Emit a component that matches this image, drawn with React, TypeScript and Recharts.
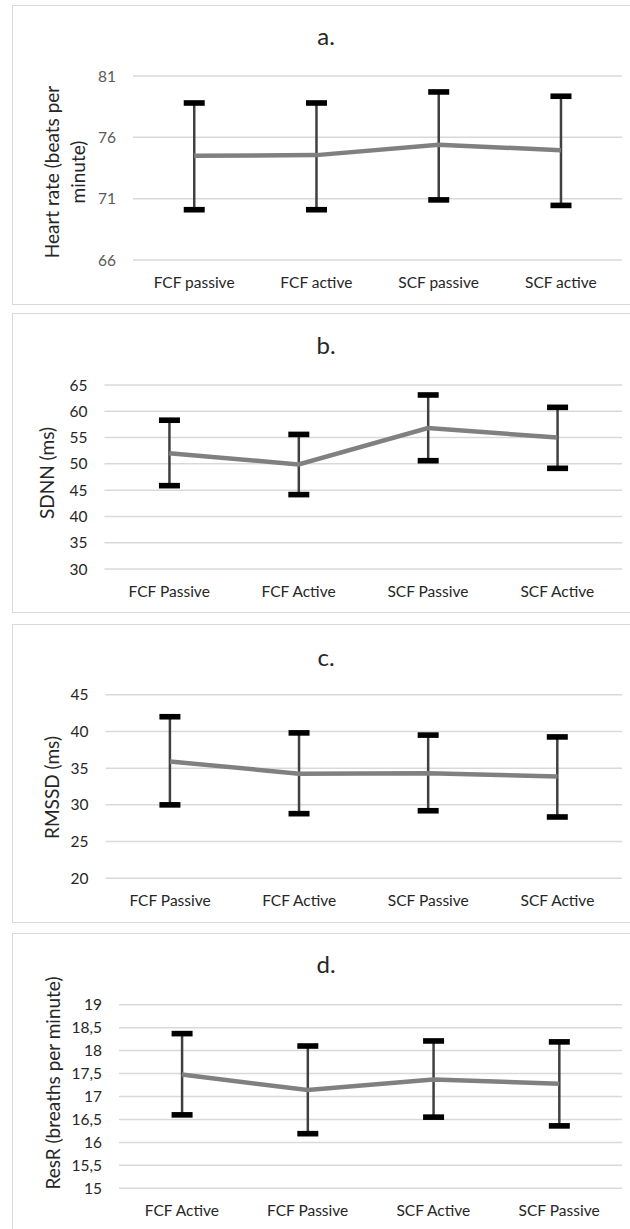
import React from 'react';
import { ComposedChart, Line, Bar, XAxis, YAxis, CartesianGrid } from 'recharts';

// ---------- DATA ----------
const hrCategories = ['FCF passive', 'FCF active', 'SCF passive', 'SCF active'];
const hrMean = [74.5, 74.55, 75.4, 74.95];
const hrUpper = [78.8, 78.8, 79.7, 79.35];
const hrLower = [70.1, 70.1, 70.9, 70.45];
const hrTicks = [66, 71, 76, 81];

const sdnnCategories = ['FCF Passive', 'FCF Active', 'SCF Passive', 'SCF Active'];
const sdnnMean = [52.0, 49.9, 56.8, 55.0];
const sdnnUpper = [58.3, 55.6, 63.1, 60.75];
const sdnnLower = [45.85, 44.15, 50.6, 49.15];
const sdnnTicks = [30, 35, 40, 45, 50, 55, 60, 65];

const rmssdCategories = ['FCF Passive', 'FCF Active', 'SCF Passive', 'SCF Active'];
const rmssdMean = [35.9, 34.25, 34.3, 33.85];
const rmssdUpper = [42.0, 39.8, 39.5, 39.25];
const rmssdLower = [30.0, 28.8, 29.2, 28.35];
const rmssdTicks = [20, 25, 30, 35, 40, 45];

const resrCategories = ['FCF Active', 'FCF Passive', 'SCF Active', 'SCF Passive'];
const resrMean = [17.48, 17.14, 17.37, 17.28];
const resrUpper = [18.37, 18.1, 18.21, 18.19];
const resrLower = [16.6, 16.19, 16.55, 16.36];
const resrTicks = [15, 15.5, 16, 16.5, 17, 17.5, 18, 18.5, 19];

// ---------- LAYOUT ----------
const FONT = 'Lato, "Open Sans", sans-serif';
const PAGE_W = 630;
const PAGE_H = 1229;

type PanelCfg = {
  key: string;
  title: string;
  top: number;
  boxHeight: number;
  chartHeight: number;
  plotLeft: number;
  plotRight: number;
  plotTop: number;
  plotBottom: number;
  titleY: number;
  yTitle: string[];
  yTitleX: number[];
  yTitleY: number;
  yTickColor: string;
  categories: string[];
  mean: number[];
  upper: number[];
  lower: number[];
  ticks: number[];
  comma: boolean;
};

const panels: PanelCfg[] = [
  {
    key: 'a', title: 'a.', top: 5, boxHeight: 300, chartHeight: 300,
    plotLeft: 133, plotRight: 622, plotTop: 76, plotBottom: 260,
    titleY: 39, yTitle: ['Heart rate (beats per', 'minute)'], yTitleX: [51, 77.5], yTitleY: 172,
    yTickColor: '#595959',
    categories: hrCategories, mean: hrMean, upper: hrUpper, lower: hrLower, ticks: hrTicks, comma: false,
  },
  {
    key: 'b', title: 'b.', top: 313, boxHeight: 300, chartHeight: 300,
    plotLeft: 104.5, plotRight: 622, plotTop: 385, plotBottom: 569,
    titleY: 348, yTitle: ['SDNN (ms)'], yTitleX: [46], yTitleY: 473,
    yTickColor: '#262626',
    categories: sdnnCategories, mean: sdnnMean, upper: sdnnUpper, lower: sdnnLower, ticks: sdnnTicks, comma: false,
  },
  {
    key: 'c', title: 'c.', top: 624, boxHeight: 299, chartHeight: 299,
    plotLeft: 105.5, plotRight: 622, plotTop: 694.7, plotBottom: 878.3,
    titleY: 659.5, yTitle: ['RMSSD (ms)'], yTitleX: [51], yTitleY: 787.5,
    yTickColor: '#262626',
    categories: rmssdCategories, mean: rmssdMean, upper: rmssdUpper, lower: rmssdLower, ticks: rmssdTicks, comma: false,
  },
  {
    key: 'd', title: 'd.', top: 933, boxHeight: 320, chartHeight: 296,
    plotLeft: 119, plotRight: 622, plotTop: 1004.7, plotBottom: 1188.3,
    titleY: 967, yTitle: ['ResR (breaths per minute)'], yTitleX: [52], yTitleY: 1083,
    yTickColor: '#262626',
    categories: resrCategories, mean: resrMean, upper: resrUpper, lower: resrLower, ticks: resrTicks, comma: true,
  },
];

const TICK_FONT = 15.5;
const AXIS_TITLE_FONT = 19;
const TITLE_FONT = 24;
const X_AXIS_H = 40;

const ErrorShape = (props: any) => {
  const { x, y, width, height } = props;
  if (x == null || y == null) return null;
  const cx = x + width / 2;
  const yTop = Math.min(y, y + height);
  const yBot = Math.max(y, y + height);
  return (
    <g>
      <line x1={cx} x2={cx} y1={yTop} y2={yBot} stroke="#404040" strokeWidth={2.5} />
      <rect x={cx - 10.5} y={yTop - 2.8} width={21} height={5.6} fill="#000000" />
      <rect x={cx - 10.5} y={yBot - 2.8} width={21} height={5.6} fill="#000000" />
    </g>
  );
};

function Panel({ cfg }: { cfg: PanelCfg }) {
  const data = cfg.categories.map((c, i) => ({
    cat: c,
    mean: cfg.mean[i],
    range: [cfg.lower[i], cfg.upper[i]],
  }));
  const marginTop = cfg.plotTop - cfg.top;
  const marginBottom = cfg.chartHeight - (cfg.plotBottom - cfg.top) - X_AXIS_H;
  const fmt = (v: number) => (cfg.comma ? String(v).replace('.', ',') : String(v));
  return (
    <div style={{ position: 'absolute', left: 0, top: cfg.top, width: PAGE_W, height: cfg.chartHeight }}>
      <ComposedChart
        width={PAGE_W}
        height={cfg.chartHeight}
        data={data}
        margin={{ top: marginTop, right: PAGE_W - cfg.plotRight, bottom: marginBottom, left: 0 }}
      >
        <CartesianGrid vertical={false} stroke="#d9d9d9" strokeWidth={1.5} />
        <XAxis
          dataKey="cat"
          height={X_AXIS_H}
          axisLine={false}
          tickLine={false}
          tickMargin={11}
          interval={0}
          tick={{ fontFamily: FONT, fontSize: TICK_FONT, fill: '#262626' }}
        />
        <YAxis
          width={cfg.plotLeft}
          domain={[cfg.ticks[0], cfg.ticks[cfg.ticks.length - 1]]}
          ticks={cfg.ticks}
          interval={0}
          axisLine={false}
          tickLine={false}
          tickMargin={11}
          tickFormatter={fmt}
          tick={{ fontFamily: FONT, fontSize: TICK_FONT, fill: cfg.yTickColor }}
        />
        <Line
          type="linear"
          dataKey="mean"
          stroke="#808080"
          strokeWidth={4.5}
          dot={false}
          activeDot={false}
          isAnimationActive={false}
        />
        <Bar dataKey="range" fill="none" shape={<ErrorShape />} isAnimationActive={false} />
      </ComposedChart>
    </div>
  );
}

export default function App() {
  return (
    <div
      style={{
        position: 'fixed',
        left: 0,
        top: 0,
        width: PAGE_W,
        height: PAGE_H,
        overflow: 'hidden',
        background: '#ffffff',
        fontFamily: FONT,
      }}
    >
      {panels.map((p) => (
        <div
          key={'box' + p.key}
          style={{
            position: 'absolute',
            left: 12,
            top: p.top,
            width: 628,
            height: p.boxHeight,
            border: '1px solid #d9d9d9',
            boxSizing: 'border-box',
          }}
        />
      ))}
      {panels.map((p) => (
        <Panel key={p.key} cfg={p} />
      ))}
      <svg
        width={PAGE_W}
        height={PAGE_H}
        style={{ position: 'absolute', left: 0, top: 0, pointerEvents: 'none' }}
      >
        {panels.map((p) => (
          <g key={'t' + p.key}>
            <text
              x={326}
              y={p.titleY + 0.253 * TITLE_FONT}
              textAnchor="middle"
              fontFamily={FONT}
              fontSize={TITLE_FONT}
              fill="#262626"
            >
              {p.title}
            </text>
            {p.yTitle.map((line, i) => (
              <text
                key={i}
                x={p.yTitleX[i]}
                y={p.yTitleY}
                transform={`rotate(-90 ${p.yTitleX[i]} ${p.yTitleY})`}
                textAnchor="middle"
                dominantBaseline="central"
                fontFamily={FONT}
                fontSize={AXIS_TITLE_FONT}
                fill="#262626"
              >
                {line}
              </text>
            ))}
          </g>
        ))}
      </svg>
    </div>
  );
}
